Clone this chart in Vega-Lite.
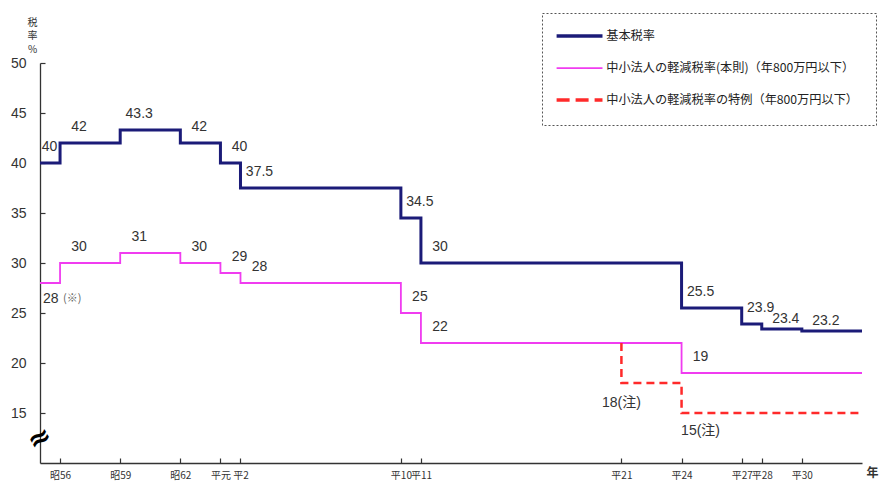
{
  "$schema": "https://vega.github.io/schema/vega-lite/v6.json",
  "width": 822,
  "height": 400,
  "autosize": {"type": "none"},
  "padding": {"left": 40, "top": 63, "right": 28, "bottom": 19},
  "background": "white",
  "config": {
    "view": {"stroke": null},
    "font": "Liberation Sans, Noto Sans CJK JP",
    "axis": {"domainColor": "#333", "domainWidth": 1.3, "tickColor": "#333", "tickWidth": 1.2, "grid": false, "labelColor": "#333"}
  },
  "data": {
    "values": [
      {"series": "basic", "year": 1980, "rate": 40, "label": "40"},
      {"series": "basic", "year": 1981, "rate": 42, "label": "42"},
      {"series": "basic", "year": 1984, "rate": 43.3, "label": "43.3"},
      {"series": "basic", "year": 1987, "rate": 42, "label": "42"},
      {"series": "basic", "year": 1989, "rate": 40, "label": "40"},
      {"series": "basic", "year": 1990, "rate": 37.5, "label": "37.5"},
      {"series": "basic", "year": 1998, "rate": 34.5, "label": "34.5"},
      {"series": "basic", "year": 1999, "rate": 30, "label": "30"},
      {"series": "basic", "year": 2012, "rate": 25.5, "label": "25.5"},
      {"series": "basic", "year": 2015, "rate": 23.9, "label": "23.9"},
      {"series": "basic", "year": 2016, "rate": 23.4, "label": "23.4"},
      {"series": "basic", "year": 2018, "rate": 23.2, "label": "23.2"},
      {"series": "basic", "year": 2021, "rate": 23.2, "label": ""},
      {"series": "small", "year": 1980, "rate": 28, "label": "28"},
      {"series": "small", "year": 1981, "rate": 30, "label": "30"},
      {"series": "small", "year": 1984, "rate": 31, "label": "31"},
      {"series": "small", "year": 1987, "rate": 30, "label": "30"},
      {"series": "small", "year": 1989, "rate": 29, "label": "29"},
      {"series": "small", "year": 1990, "rate": 28, "label": "28"},
      {"series": "small", "year": 1998, "rate": 25, "label": "25"},
      {"series": "small", "year": 1999, "rate": 22, "label": "22"},
      {"series": "small", "year": 2012, "rate": 19, "label": "19"},
      {"series": "small", "year": 2021, "rate": 19, "label": ""},
      {"series": "special", "year": 2009, "rate": 22, "label": ""},
      {"series": "special", "year": 2009, "rate": 18, "label": "18(注)"},
      {"series": "special", "year": 2012, "rate": 15, "label": "15(注)"},
      {"series": "special", "year": 2021, "rate": 15, "label": ""}
    ]
  },
  "encoding": {
    "x": {
      "field": "year", "type": "quantitative",
      "scale": {"domain": [1980, 2021], "nice": false, "zero": false},
      "axis": {
        "values": [1981, 1984, 1987, 1989, 1990, 1998, 1999, 2009, 2012, 2015, 2016, 2018],
        "labelExpr": "datum.value < 1989 ? '昭' + (datum.value - 1925) : datum.value == 1989 ? '平元' : '平' + (datum.value - 1988)",
        "labelFontSize": 10, "labelFont": "Noto Sans CJK JP", "labelPadding": 12, "labelOverlap": false,
        "tickSize": -5,
        "title": "年", "titleX": 832, "titleY": 9, "titleAlign": "center", "titleBaseline": "middle",
        "titleFontSize": 12, "titleFontWeight": "bold", "titleFont": "Noto Sans CJK JP", "titleColor": "#333"
      }
    },
    "y": {
      "field": "rate", "type": "quantitative",
      "scale": {"domain": [10, 50], "nice": false, "zero": false},
      "axis": {
        "values": [15, 20, 25, 30, 35, 40, 45, 50],
        "labelFontSize": 14, "labelPadding": 19, "tickSize": -5,
        "title": ["税", "率", "%"], "titleAngle": 0, "titleX": -8, "titleY": -41,
        "titleAlign": "center", "titleBaseline": "middle", "titleFontSize": 10,
        "titleFontWeight": "normal", "titleLineHeight": 13.5, "titleColor": "#333", "titleFont": "Noto Sans CJK JP"
      }
    },
    "color": {
      "field": "series", "type": "nominal",
      "scale": {"domain": ["basic", "small", "special"], "range": ["#1b1b78", "#f03cf0", "#ff2a2a"]},
      "legend": {
        "orient": "none", "legendX": 502, "legendY": -50, "title": null,
        "strokeColor": "#555", "padding": 17,
        "symbolType": "M-1,0H4.4", "symbolSize": 289, "labelOffset": 35,
        "labelFontSize": 12.2, "labelFont": "Noto Sans CJK JP", "labelColor": "#222", "labelLimit": 400,
        "rowPadding": 18,
        "labelExpr": "datum.value == 'basic' ? '基本税率' : datum.value == 'small' ? '中小法人の軽減税率(本則)（年800万円以下）' : '中小法人の軽減税率の特例（年800万円以下）\u3000\u3000'",
        "encode": {
          "legend": {"update": {"strokeDash": {"value": [2, 2]}}},
          "symbols": {"update": {
            "stroke": {"signal": "datum.value == 'basic' ? '#000000' : datum.value == 'small' ? '#f03cf0' : '#ff2a2a'"},
            "strokeWidth": {"signal": "datum.value == 'small' ? 1.6 : 3.5"},
            "strokeDash": {"signal": "datum.value == 'special' ? [13, 6] : [1, 0]"}
          }}
        }
      }
    }
  },
  "layer": [
    {
      "transform": [{"filter": "datum.series == 'small'"}],
      "mark": {"type": "line", "interpolate": "step-after", "strokeWidth": 1.8}
    },
    {
      "transform": [{"filter": "datum.series == 'special'"}],
      "mark": {"type": "line", "interpolate": "step-after", "strokeWidth": 2.5, "strokeDash": [8, 5]}
    },
    {
      "transform": [{"filter": "datum.series == 'basic'"}],
      "mark": {"type": "line", "interpolate": "step-after", "strokeWidth": 3}
    },
    {
      "transform": [{"filter": "datum.label != '' && datum.series != 'special' && datum.year > 1980 && !(datum.series == 'basic' && datum.year >= 2016)"}],
      "mark": {"type": "text", "dx": 19, "dy": -16.5, "fontSize": 14, "align": "center", "baseline": "middle"},
      "encoding": {"text": {"field": "label"}, "color": {"value": "#333"}}
    },
    {
      "transform": [{"filter": "datum.series == 'basic' && datum.year == 1980"}],
      "mark": {"type": "text", "dx": 9.5, "dy": -16, "fontSize": 14, "align": "center", "baseline": "middle"},
      "encoding": {"text": {"field": "label"}, "color": {"value": "#333"}}
    },
    {
      "transform": [{"filter": "datum.series == 'basic' && datum.year >= 2016 && datum.label != ''"}],
      "mark": {"type": "text", "dx": 24, "dy": -10, "fontSize": 14, "align": "center", "baseline": "middle"},
      "encoding": {"text": {"field": "label"}, "color": {"value": "#333"}}
    },
    {
      "transform": [{"filter": "datum.series == 'small' && datum.year == 1980"}],
      "mark": {"type": "text", "dx": 3, "dy": 16, "fontSize": 14, "align": "left", "baseline": "middle"},
      "encoding": {"text": {"field": "label"}, "color": {"value": "#333"}}
    },
    {
      "transform": [{"filter": "datum.series == 'small' && datum.year == 1980"}],
      "mark": {"type": "text", "dx": 23, "dy": 16, "fontSize": 11, "align": "left", "baseline": "middle", "font": "Noto Sans CJK JP"},
      "encoding": {"text": {"value": "(※)"}, "color": {"value": "#666"}}
    },
    {
      "transform": [{"filter": "datum.series == 'special' && datum.year == 2009 && datum.label != ''"}],
      "mark": {"type": "text", "dx": 0, "dy": 20, "fontSize": 14, "align": "center", "baseline": "middle"},
      "encoding": {"text": {"field": "label"}, "color": {"value": "#333"}}
    },
    {
      "transform": [{"filter": "datum.series == 'special' && datum.year == 2012"}],
      "mark": {"type": "text", "dx": 19, "dy": 18, "fontSize": 14, "align": "center", "baseline": "middle"},
      "encoding": {"text": {"field": "label"}, "color": {"value": "#333"}}
    },
    {
      "data": {"values": [{"year": 1980, "rate": 12.4, "symbol": "≈"}]},
      "mark": {"type": "text", "fontSize": 28, "fontWeight": "bold", "angle": -30, "align": "center", "baseline": "middle", "font": "DejaVu Sans"},
      "encoding": {"text": {"field": "symbol"}, "color": {"value": "#000"}}
    }
  ]
}
